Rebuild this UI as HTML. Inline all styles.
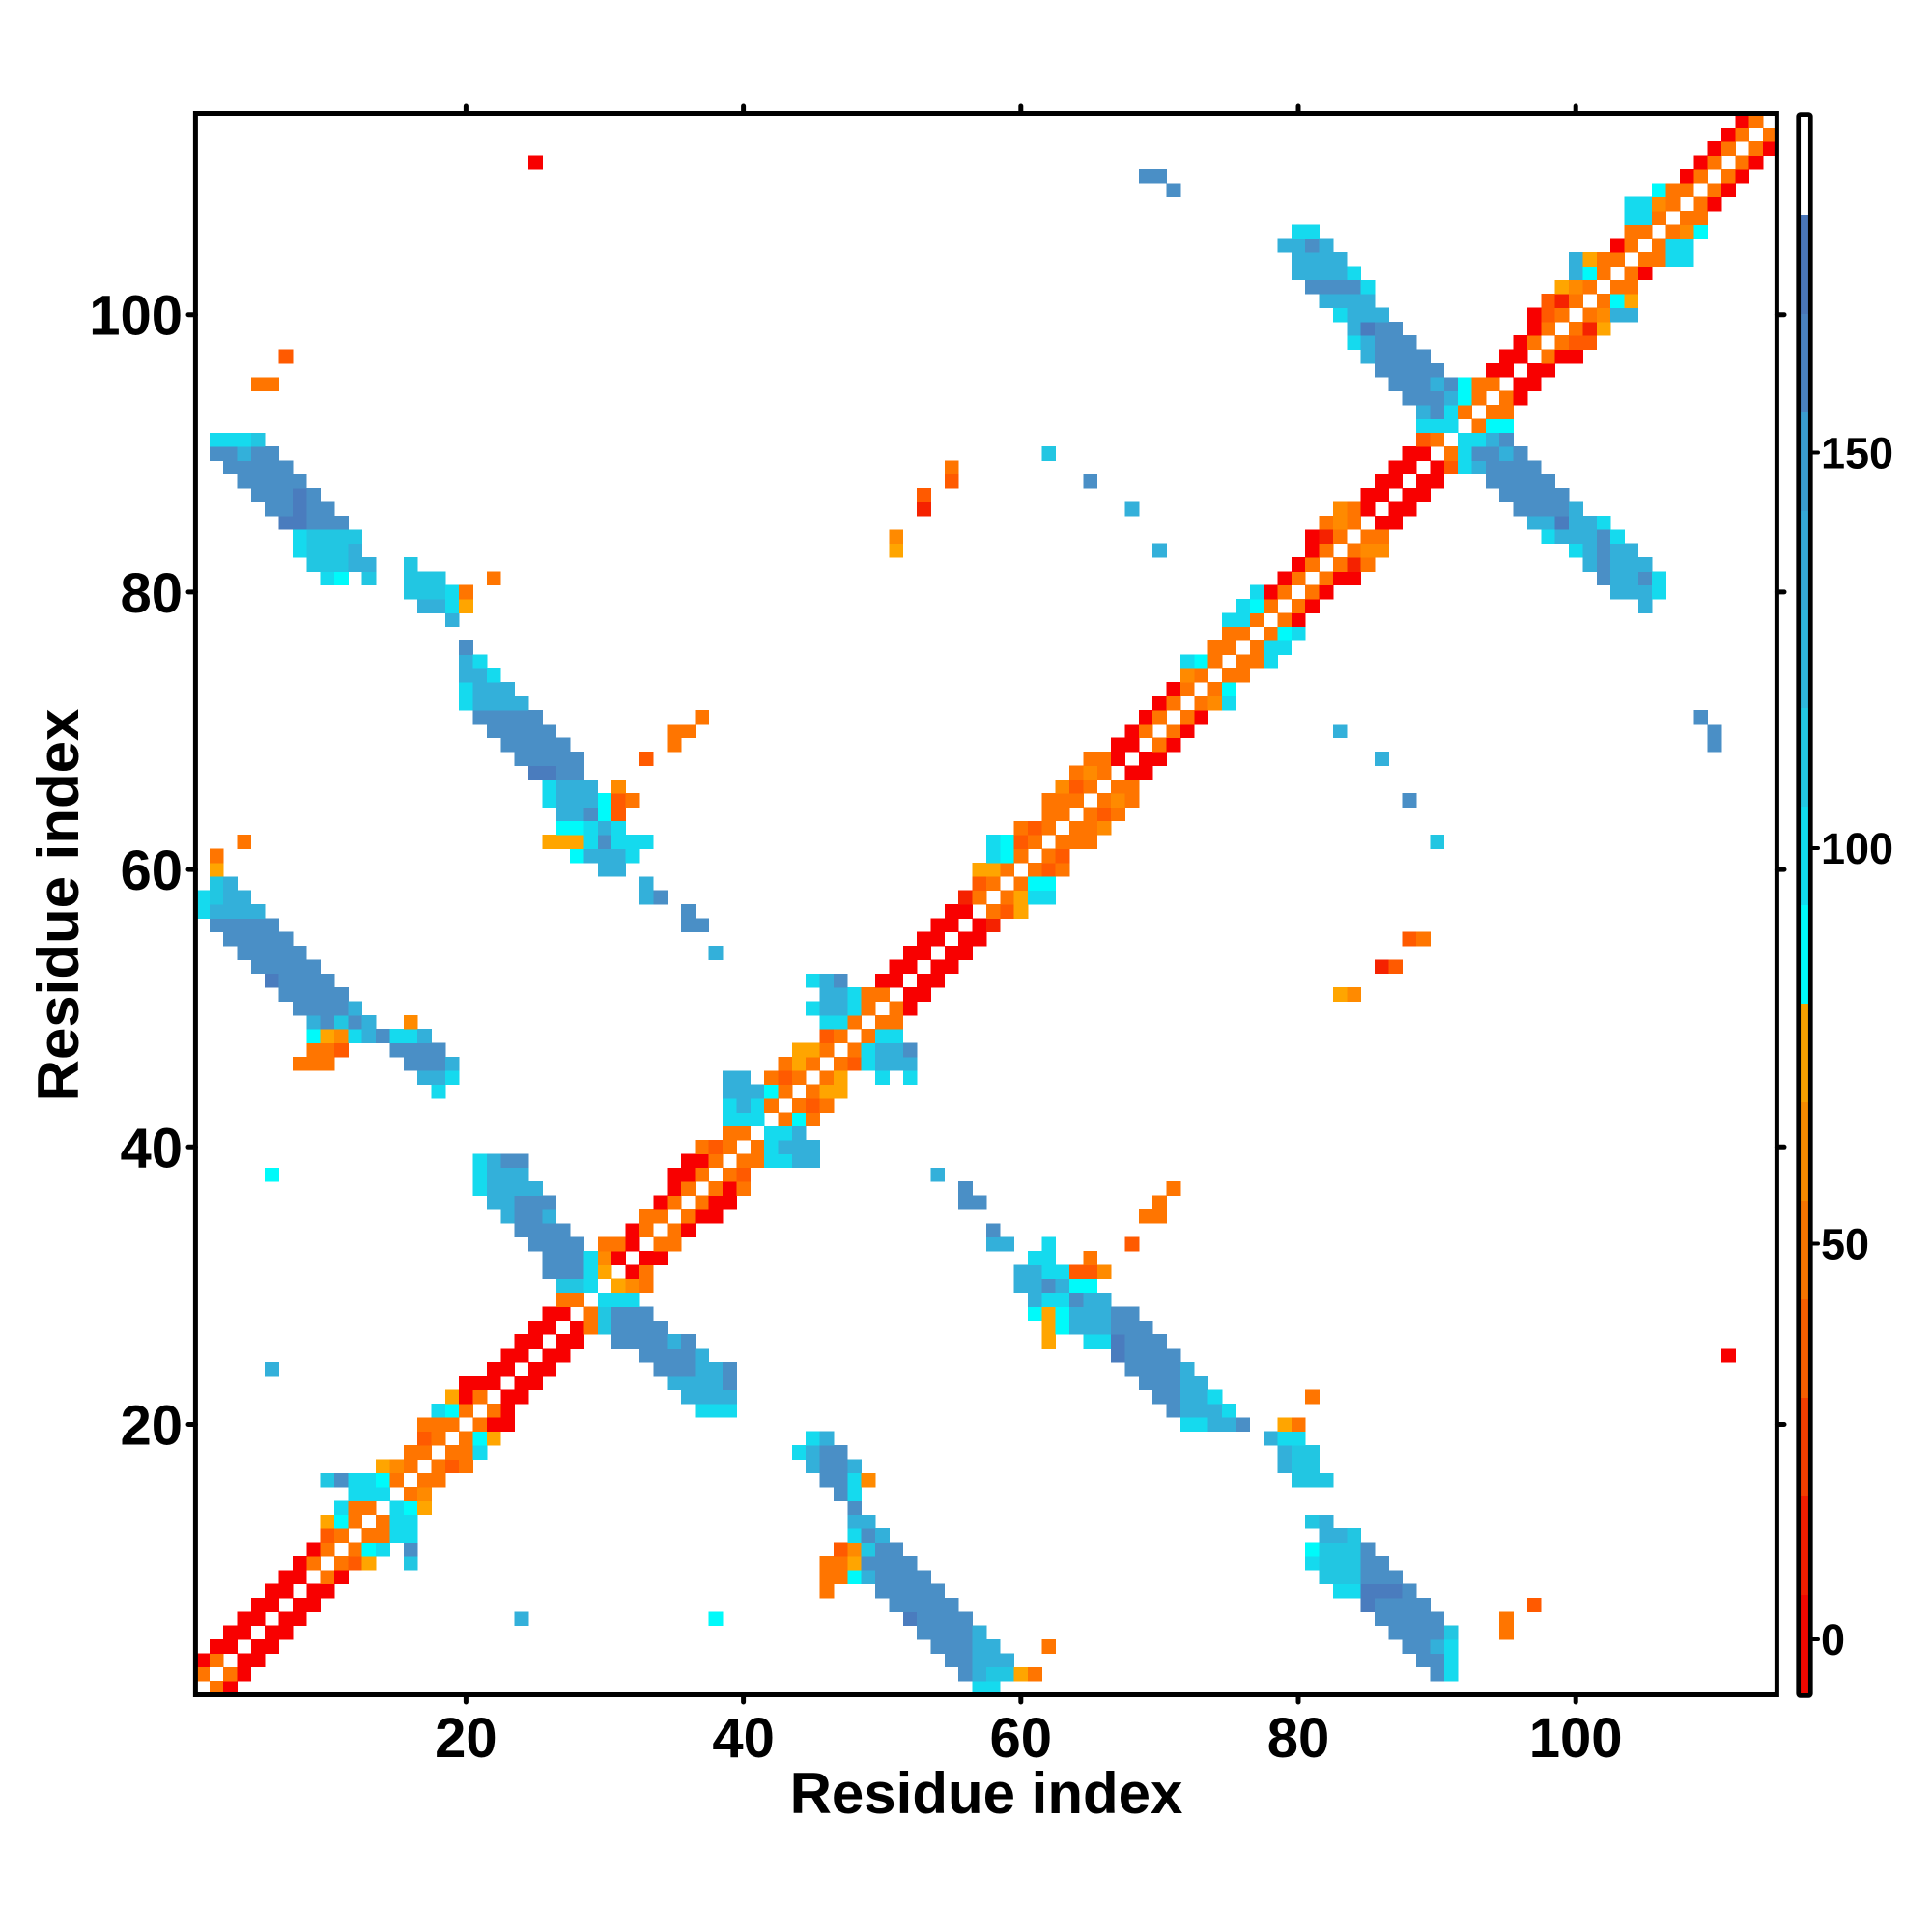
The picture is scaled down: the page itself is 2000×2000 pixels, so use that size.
<!DOCTYPE html>
<html>
<head>
<meta charset="utf-8">
<style>
html,body{margin:0;padding:0;background:#fff;}
svg{display:block;}
text{font-family:"Liberation Sans",Arial,sans-serif;font-weight:bold;fill:#000;}
</style>
</head>
<body>
<svg id="chart" xmlns="http://www.w3.org/2000/svg" width="2000" height="2000" viewBox="0 0 2000 2000">
<rect x="0" y="0" width="2000" height="2000" fill="#fff"/>
<g id="cells" shape-rendering="crispEdges"></g>
<!-- frame -->
<rect x="202.4" y="117.5" width="1637" height="1637" fill="none" stroke="#000" stroke-width="5"/>
<g stroke="#000" stroke-width="5" stroke-linecap="round">
<!-- bottom ticks -->
<line x1="482.4" y1="1754.5" x2="482.4" y2="1762"/>
<line x1="769.6" y1="1754.5" x2="769.6" y2="1762"/>
<line x1="1056.8" y1="1754.5" x2="1056.8" y2="1762"/>
<line x1="1344" y1="1754.5" x2="1344" y2="1762"/>
<line x1="1631.2" y1="1754.5" x2="1631.2" y2="1762"/>
<!-- top ticks -->
<line x1="482.4" y1="117.5" x2="482.4" y2="110"/>
<line x1="769.6" y1="117.5" x2="769.6" y2="110"/>
<line x1="1056.8" y1="117.5" x2="1056.8" y2="110"/>
<line x1="1344" y1="117.5" x2="1344" y2="110"/>
<line x1="1631.2" y1="117.5" x2="1631.2" y2="110"/>
<!-- left ticks -->
<line x1="202.4" y1="1474.5" x2="195" y2="1474.5"/>
<line x1="202.4" y1="1187.3" x2="195" y2="1187.3"/>
<line x1="202.4" y1="900.1" x2="195" y2="900.1"/>
<line x1="202.4" y1="612.9" x2="195" y2="612.9"/>
<line x1="202.4" y1="325.7" x2="195" y2="325.7"/>
<!-- right ticks -->
<line x1="1839.4" y1="1474.5" x2="1847" y2="1474.5"/>
<line x1="1839.4" y1="1187.3" x2="1847" y2="1187.3"/>
<line x1="1839.4" y1="900.1" x2="1847" y2="900.1"/>
<line x1="1839.4" y1="612.9" x2="1847" y2="612.9"/>
<line x1="1839.4" y1="325.7" x2="1847" y2="325.7"/>
</g>
<!-- x tick labels -->
<g font-size="58" text-anchor="middle">
<text x="482.4" y="1819">20</text>
<text x="769.6" y="1819">40</text>
<text x="1056.8" y="1819">60</text>
<text x="1344" y="1819">80</text>
<text x="1631.2" y="1819">100</text>
</g>
<!-- y tick labels -->
<g font-size="58" text-anchor="end">
<text x="189" y="1495.5">20</text>
<text x="189" y="1208.3">40</text>
<text x="189" y="921.1">60</text>
<text x="189" y="633.9">80</text>
<text x="189" y="346.7">100</text>
</g>
<text x="1021" y="1877" font-size="60" text-anchor="middle">Residue index</text>
<text transform="translate(81,937) rotate(-90)" x="0" y="0" font-size="60" text-anchor="middle">Residue index</text>

<!-- colorbar -->
<g shape-rendering="crispEdges">
<rect x="1861.7" y="121" width="12.6" height="102" fill="#ffffff"/>
<rect x="1861.7" y="223" width="12.6" height="102" fill="#4a76b8"/>
<rect x="1861.7" y="325" width="12.6" height="102" fill="#4a82c0"/>
<rect x="1861.7" y="427" width="12.6" height="102" fill="#3a9ccf"/>
<rect x="1861.7" y="529" width="12.6" height="102" fill="#35a8d6"/>
<rect x="1861.7" y="631" width="12.6" height="102" fill="#2fb6dc"/>
<rect x="1861.7" y="733" width="12.6" height="102" fill="#23c8e4"/>
<rect x="1861.7" y="835" width="12.6" height="102" fill="#12dcef"/>
<rect x="1861.7" y="937" width="12.6" height="102" fill="#00fafa"/>
<rect x="1861.7" y="1039" width="12.6" height="102" fill="#f5a000"/>
<rect x="1861.7" y="1141" width="12.6" height="102" fill="#f58a00"/>
<rect x="1861.7" y="1243" width="12.6" height="102" fill="#f57400"/>
<rect x="1861.7" y="1345" width="12.6" height="102" fill="#f55e00"/>
<rect x="1861.7" y="1447" width="12.6" height="102" fill="#f23e00"/>
<rect x="1861.7" y="1549" width="12.6" height="102" fill="#f01e00"/>
<rect x="1861.7" y="1651" width="12.6" height="104" fill="#f00800"/>
</g>
<rect x="1861.7" y="118.6" width="12.6" height="1636.8" fill="none" stroke="#000" stroke-width="4.7" rx="2"/>
<g stroke="#000" stroke-width="4" stroke-linecap="round">
<line x1="1876" y1="1697" x2="1882" y2="1697"/>
<line x1="1876" y1="1287.5" x2="1882" y2="1287.5"/>
<line x1="1876" y1="878" x2="1882" y2="878"/>
<line x1="1876" y1="468.5" x2="1882" y2="468.5"/>
</g>
<g font-size="45" text-anchor="start">
<text x="1885" y="1713">0</text>
<text x="1885" y="1303.5">50</text>
<text x="1885" y="894">100</text>
<text x="1885" y="484.5">150</text>
</g>
</svg>
<script>
(function(){
var rows = {
1:"2O 3R 57c 58c",
2:"3O 4R 56B 57m 58k 59k 60A 61O 90B 91c",
3:"4R 5R 55B 56B 57m 58m 59m 89B 90B 91c",
4:"5R 6R 54B 55B 56B 57m 58m 62O 88B 89B 90m 91c",
5:"6R 7R 53B 54B 55B 56B 57m 87B 88B 89B 90B 91k 95O",
6:"7R 8R 24m 38C 52b 53B 54B 55B 56B 86B 87B 88B 89B 90B 95O",
7:"8R 9R 51B 52B 53B 54B 55B 85b 86B 87B 88B 89B 97D",
8:"9R 10R 46O 50B 51B 52B 53B 54B 83c 84c 85b 86b 87b 88B",
9:"10O 11R 46O 47O 48C 49m 50B 51B 52B 53B 82k 83k 84k 85B 86B 87B",
10:"11O 12D 13A 16k 46O 47O 48A 49B 50B 51B 52B 81c 82k 83k 84k 85B 86B",
11:"12O 13C 14c 16B 47D 48o 49k 50B 51B 81C 82k 83k 84k 85B",
12:"13O 14O 15c 16c 48c 49B 50m 82m 83m 84k",
13:"14O 15c 16c 48m 49m 81k 82m",
14:"15c 16C 17A 48B",
15:"16O 17o 47B 48c",
16:"17O 18O 46B 47B 48c 49o 80k 81k 82k",
17:"18O 19D 20O 45m 46B 47B 48m 79m 80k 81k",
18:"19O 20O 21c 44c 45m 46B 47B 79m 80k 81k",
19:"20O 21C 22A 45c 46m 78m 79c 80c",
20:"21O 22R 23R 72c 73c 74m 75m 76B 79A 80O",
21:"22O 23R 37c 38c 39c 71B 72m 73m 74m 75c",
22:"23R 24R 36m 37m 38m 39m 70B 71B 72m 73m 74c 81O",
23:"24R 25R 35m 36m 37m 38m 39B 69B 70B 71B 72m 73m",
24:"25R 26R 34B 35B 36B 37m 38m 39B 68B 69B 70B 71B 72m",
25:"26R 27R 33B 34B 35B 36B 37m 67b 68B 69B 70B 71B 111R",
26:"27R 28R 31B 32B 33B 34B 35m 36B 62A 65c 66c 67b 68B 69B 70B",
27:"28R 29O 30k 31B 32B 33B 34B 62A 63C 64m 65m 66m 67B 68B 69B",
28:"29O 30k 31B 32B 33B 61C 62A 63C 64m 65m 66m 67B 68B",
29:"30c 31c 32c 61m 62c 63c 64B 65m 66m",
30:"31A 32o 33O 60m 61m 62B 63m 64C 65C",
31:"32R 33O 60m 61m 62c 63c 64D 65D 66o",
32:"33R 34R 61c 62c 65O",
33:"34O 35O 58m 59m 62c 68D",
34:"35O 36R 58B",
35:"36O 37R 38R 69O 70O",
36:"37O 38R 39R 56B 57B 70O",
37:"38O 39R 40O 56B 71O",
38:"39O 40D 54m",
39:"40O 41O 42c 43c 44m 45m",
40:"41O 42c 43m 44m 45m",
41:"42c 43c 44m",
42:"43O 44C 45O",
43:"44O 45D 46O",
44:"45O 46A 47A",
45:"46O 47A 50c 52c",
46:"47O 48D 49c 50m 51m 52m",
47:"48O 49c 50m 51m 52B",
48:"49O 50c 51c",
49:"50O 51O",
50:"51O 52R",
51:"52R 53R 83A 84o",
52:"53R 54R",
53:"54R 55R 86r 87D",
54:"55R 56R",
55:"56R 57R 88D 89O",
56:"57R 58r",
57:"58O 59D 60A",
58:"59O 60A 61c 62c",
59:"60O 61C 62C",
60:"61O 62D 63O",
61:"62O 63D",
62:"63O 64O 65O 90k",
63:"64O 65O 66o",
64:"65O 66D 67O",
65:"66O 67o 68O 88B",
66:"67O 68O",
67:"68R 69R",
68:"69R 70R 86m",
69:"70O 71R 110B",
70:"71O 72R 83m 110B",
71:"72O 73R 109B",
72:"73O 74o 75c",
73:"74O 75C",
74:"75O 76O",
75:"76O 77O 78c",
76:"77O 78c 79c",
77:"78O 79C 80c",
78:"79O 80R",
79:"80O 81R 105m",
80:"81O 82R 103m 104m 105m 106c",
81:"82O 83R 84R 102B 103m 104m 105B 106c",
82:"83O 84r 85O 101m 102B 103m 104m 105m",
83:"84O 85o 86o 100c 101m 102B 103m 104m",
84:"85O 86O 98c 99m 100m 101m 102B 103c",
85:"86R 87R 97m 98m 99b 100m 101m 102c",
86:"87R 88R 96B 97B 98B 99B 100m",
87:"88R 89R 95B 96B 97B 98B 99B",
88:"89R 90R 94B 95B 96B 97B 98B",
89:"90R 91D 92c 93m 94B 95B 96B 97B",
90:"91O 92c 93B 94B 95m 96B",
91:"92c 93c 94m 95B",
92:"93O 94C 95C",
93:"94O 95O",
94:"95O 96R",
95:"96R 97R",
96:"97R 98R",
97:"98O 99R 100R",
98:"99O 100D 101D",
99:"100O 101r 102A",
100:"101O 102o 103m 104m",
101:"102O 103C 104A",
102:"103O 104O",
103:"104O 105R",
104:"105O 106O 107c 108c",
105:"106O 107c 108c",
106:"107O 108o 109C",
107:"108O 109O",
108:"109O 110R",
109:"110O 111R",
110:"111O 112R",
111:"112O 113R",
112:"113O 114R",
113:"114O"
};
var col = {R:"#f80000",r:"#f52200",D:"#ff5a00",O:"#ff7500",o:"#ff8a00",A:"#ffa500",
C:"#00fafa",c:"#15daee",k:"#22c6e2",m:"#33b0da",B:"#4a8fc6",b:"#4a7cbe"};
var X0=202.4, YB=1761.7, S=14.36;
var g=document.getElementById("cells");
var ns="http://www.w3.org/2000/svg";
function cell(i,v,c){
  var r=document.createElementNS(ns,"rect");
  r.setAttribute("x",(X0+(i-1)*S).toFixed(2));
  r.setAttribute("y",(YB-(v+0.5)*S).toFixed(2));
  r.setAttribute("width",(S+0.4).toFixed(2));
  r.setAttribute("height",(S+0.4).toFixed(2));
  r.setAttribute("fill",c);
  g.appendChild(r);
}
for (var v in rows){
  var vv=parseInt(v,10);
  var parts=rows[v].split(" ");
  for (var k=0;k<parts.length;k++){
    var m=parts[k].match(/^(\d+)([A-Za-z])$/);
    if(!m) continue;
    var i=parseInt(m[1],10), c=col[m[2]];
    cell(i,vv,c);
    cell(vv,i,c);
  }
}
})();
</script>
</body>
</html>
